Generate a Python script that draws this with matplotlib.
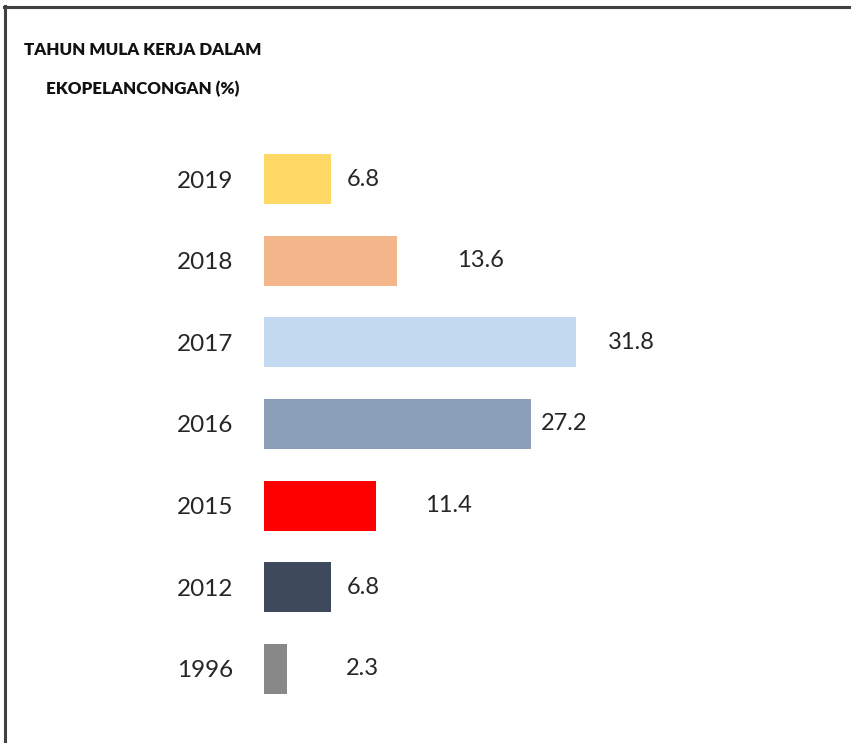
import matplotlib
matplotlib.use("Agg")
import matplotlib.pyplot as plt
from matplotlib.lines import Line2D

years = ["2019", "2018", "2017", "2016", "2015", "2012", "1996"]
values = [6.8, 13.6, 31.8, 27.2, 11.4, 6.8, 2.3]
colors = ["#FFD966", "#F4B68B", "#C3D9F0", "#8C9FB8", "#FF0000", "#3E4A5B", "#888888"]
label_offsets = [1.6, 6.1, 3.3, 1.1, 5.0, 1.6, 6.1]
title_lines = ["TAHUN MULA KERJA DALAM", "EKOPELANCONGAN (%)"]

W, H = 851, 743
fig = plt.figure(figsize=(W / 100, H / 100), dpi=100)
fig.patch.set_facecolor("white")

top_px, bot_px = 138.2, 709.8
left_px, px_per_unit, xmax = 264, 9.8, 50
ax = fig.add_axes([left_px / W, 1 - bot_px / H, xmax * px_per_unit / W, (bot_px - top_px) / H])
ax.set_xlim(0, xmax)
ypos = list(range(len(years)))
ax.set_ylim(len(years) - 0.5, -0.5)

ax.barh(ypos, values, height=50 / 81.67, color=colors, edgecolor="none")

txt_color = "#262626"
font = ["Lato", "DejaVu Sans"]
for y, v, off in zip(ypos, values, label_offsets):
    ax.text(v + off, y, f"{v:.1f}", va="center", ha="left", fontsize=17,
            color=txt_color, family=font)

ax.set_yticks(ypos)
ax.set_yticklabels(years, fontsize=17.5, color=txt_color, family=font)
ax.tick_params(axis="y", length=0, pad=22)
ax.set_xticks([])
for s in ax.spines.values():
    s.set_visible(False)

for i, line in enumerate(title_lines):
    fig.text(143 / W, 1 - (50 + 39 * i) / H, line, ha="center", va="center",
             fontsize=12.2, fontweight="heavy", color="#111111",
             family=["Lato", "DejaVu Sans"])

fig.add_artist(Line2D([4 / W, 1], [1 - 7 / H, 1 - 7 / H], transform=fig.transFigure,
                      color="#404040", lw=2.2))
fig.add_artist(Line2D([5 / W, 5 / W], [0, 1 - 6 / H], transform=fig.transFigure,
                      color="#404040", lw=2.2))

fig.savefig("out.png", dpi=100, facecolor="white")
